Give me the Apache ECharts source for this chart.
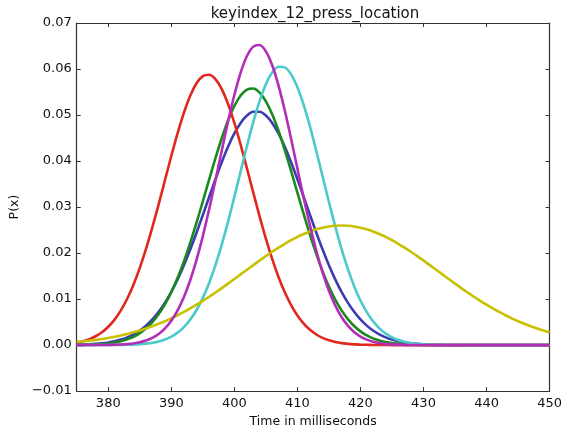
<!DOCTYPE html>
<html>
<head>
<meta charset="utf-8">
<script src="https://cdn.jsdelivr.net/npm/echarts@6/dist/echarts.min.js"></script>
<style>
  html, body { margin: 0; padding: 0; background: #fff; }
  #chart { width: 565px; height: 433px; }
</style>
</head>
<body>
<div id="chart"></div>
<script>
// Sample times (ms), one per millisecond, shared by every curve
const times = [
  375, 376, 377, 378, 379, 380, 381, 382, 383, 384,
  385, 386, 387, 388, 389, 390, 391, 392, 393, 394,
  395, 396, 397, 398, 399, 400, 401, 402, 403, 404,
  405, 406, 407, 408, 409, 410, 411, 412, 413, 414,
  415, 416, 417, 418, 419, 420, 421, 422, 423, 424,
  425, 426, 427, 428, 429, 430, 431, 432, 433, 434,
  435, 436, 437, 438, 439, 440, 441, 442, 443, 444,
  445, 446, 447, 448, 449, 450];

// Density P(x) of each curve at those times
const redP = [
  0.00055, 0.00085, 0.00129, 0.00192, 0.00279, 0.00398, 0.00553, 0.00755, 0.01007, 0.01313,
  0.01678, 0.02095, 0.02562, 0.03065, 0.03587, 0.04109, 0.04605, 0.05050, 0.05419, 0.05689,
  0.05845, 0.05876, 0.05780, 0.05562, 0.05238, 0.04827, 0.04352, 0.03840, 0.03315, 0.02799,
  0.02314, 0.01872, 0.01481, 0.01147, 0.00869, 0.00644, 0.00467, 0.00331, 0.00230, 0.00157,
  0.00104, 0.00068, 0.00043, 0.00027, 0.00016, 0.00010, 0.00006, 0.00003, 0.00002, 0.00001,
  0, 0, 0, 0, 0, 0, 0, 0, 0, 0,
  0, 0, 0, 0, 0, 0, 0, 0, 0, 0,
  0, 0, 0, 0, 0, 0];
const greenP = [
  0.00003, 0.00005, 0.00009, 0.00014, 0.00023, 0.00036, 0.00056, 0.00084, 0.00125, 0.00182,
  0.00260, 0.00364, 0.00500, 0.00674, 0.00889, 0.01152, 0.01462, 0.01820, 0.02223, 0.02661,
  0.03124, 0.03597, 0.04061, 0.04495, 0.04880, 0.05196, 0.05424, 0.05553, 0.05575, 0.05488,
  0.05298, 0.05016, 0.04657, 0.04239, 0.03784, 0.03313, 0.02844, 0.02394, 0.01976, 0.01599,
  0.01270, 0.00988, 0.00754, 0.00565, 0.00414, 0.00298, 0.00211, 0.00146, 0.00099, 0.00066,
  0.00043, 0.00028, 0.00017, 0.00011, 0.00006, 0.00004, 0.00002, 0.00001, 0.00001, 0,
  0, 0, 0, 0, 0, 0, 0, 0, 0, 0,
  0, 0, 0, 0, 0, 0];
const blueP = [
  0.00007, 0.00011, 0.00017, 0.00026, 0.00039, 0.00057, 0.00083, 0.00119, 0.00168, 0.00232,
  0.00316, 0.00423, 0.00557, 0.00723, 0.00922, 0.01157, 0.01429, 0.01736, 0.02076, 0.02442,
  0.02826, 0.03218, 0.03605, 0.03974, 0.04310, 0.04599, 0.04828, 0.04988, 0.05070, 0.05070,
  0.04988, 0.04828, 0.04599, 0.04310, 0.03974, 0.03605, 0.03218, 0.02826, 0.02442, 0.02076,
  0.01736, 0.01429, 0.01157, 0.00922, 0.00723, 0.00557, 0.00423, 0.00316, 0.00232, 0.00168,
  0.00119, 0.00083, 0.00057, 0.00039, 0.00026, 0.00017, 0.00011, 0.00007, 0.00004, 0.00003,
  0.00002, 0.00001, 0.00001, 0, 0, 0, 0, 0, 0, 0,
  0, 0, 0, 0, 0, 0];
const magentaP = [
  0, 0, 0.00001, 0.00001, 0.00002, 0.00004, 0.00007, 0.00012, 0.00021, 0.00036,
  0.00060, 0.00098, 0.00156, 0.00240, 0.00362, 0.00529, 0.00753, 0.01044, 0.01409, 0.01852,
  0.02369, 0.02952, 0.03579, 0.04226, 0.04858, 0.05436, 0.05923, 0.06282, 0.06487, 0.06522,
  0.06384, 0.06083, 0.05644, 0.05097, 0.04483, 0.03838, 0.03198, 0.02596, 0.02050, 0.01577,
  0.01181, 0.00861, 0.00611, 0.00422, 0.00284, 0.00186, 0.00119, 0.00074, 0.00044, 0.00026,
  0.00015, 0.00008, 0.00005, 0.00002, 0.00001, 0.00001, 0, 0, 0, 0,
  0, 0, 0, 0, 0, 0, 0, 0, 0, 0,
  0, 0, 0, 0, 0, 0];
const cyanP = [
  0, 0, 0, 0, 0.00001, 0.00001, 0.00002, 0.00004, 0.00006, 0.00011,
  0.00018, 0.00031, 0.00050, 0.00078, 0.00121, 0.00184, 0.00271, 0.00391, 0.00553, 0.00762,
  0.01026, 0.01350, 0.01738, 0.02185, 0.02683, 0.03220, 0.03776, 0.04327, 0.04846, 0.05303,
  0.05670, 0.05924, 0.06049, 0.06035, 0.05884, 0.05605, 0.05218, 0.04746, 0.04219, 0.03664,
  0.03110, 0.02580, 0.02091, 0.01655, 0.01281, 0.00968, 0.00716, 0.00517, 0.00364, 0.00251,
  0.00169, 0.00111, 0.00072, 0.00045, 0.00028, 0.00017, 0.00010, 0.00006, 0.00003, 0.00002,
  0.00001, 0.00001, 0, 0, 0, 0, 0, 0, 0, 0,
  0, 0, 0, 0, 0, 0];
const yellowP = [
  0.00069, 0.00082, 0.00097, 0.00114, 0.00134, 0.00156, 0.00181, 0.00210, 0.00242, 0.00277,
  0.00317, 0.00361, 0.00409, 0.00462, 0.00519, 0.00581, 0.00648, 0.00720, 0.00796, 0.00877,
  0.00962, 0.01051, 0.01143, 0.01238, 0.01336, 0.01436, 0.01537, 0.01637, 0.01738, 0.01837,
  0.01934, 0.02028, 0.02117, 0.02201, 0.02280, 0.02351, 0.02415, 0.02470, 0.02516, 0.02552,
  0.02579, 0.02595, 0.02600, 0.02595, 0.02579, 0.02552, 0.02516, 0.02470, 0.02415, 0.02351,
  0.02280, 0.02201, 0.02117, 0.02028, 0.01934, 0.01837, 0.01738, 0.01637, 0.01537, 0.01436,
  0.01336, 0.01238, 0.01143, 0.01051, 0.00962, 0.00877, 0.00796, 0.00720, 0.00648, 0.00581,
  0.00519, 0.00462, 0.00409, 0.00361, 0.00317, 0.00277];

// Axis tick positions
const xTicks = [380, 390, 400, 410, 420, 430, 440, 450];

const FONT = 'DejaVu Sans';
const AXIS_COLOR = '#333';

function pairs(vals) { return times.map((t, i) => [t, vals[i]]); }

function curve(vals, color) {
  return {
    type: 'line',
    data: pairs(vals),
    smooth: 0.3,
    symbol: 'none',
    lineStyle: { color: color, width: 2.6 },
    emphasis: { disabled: true },
    animation: false
  };
}

const chart = echarts.init(document.getElementById('chart'), null, { renderer: 'canvas' });

const tickCommon = { show: true, inside: true, length: 4, lineStyle: { color: AXIS_COLOR, width: 1 } };
const lineCommon = { show: true, onZero: false, lineStyle: { color: AXIS_COLOR, width: 1.2 } };

chart.setOption({
  backgroundColor: '#ffffff',
  animation: false,
  title: {
    text: 'keyindex_12_press_location',
    left: 310, top: 2, textAlign: 'center',
    textStyle: { fontFamily: FONT, fontSize: 15, fontWeight: 'normal', color: '#111' }
  },
  grid: { left: 67, right: 11, top: 23, bottom: 32, containLabel: false },
  xAxis: [{
    type: 'value', min: 375, max: 450, position: 'bottom',
    name: 'Time in milliseconds', nameLocation: 'middle', nameGap: 22,
    nameTextStyle: { fontFamily: FONT, fontSize: 12.5, color: '#111' },
    axisLine: lineCommon,
    axisTick: Object.assign({ customValues: xTicks }, tickCommon),
    axisLabel: { customValues: xTicks, fontFamily: FONT, fontSize: 13, color: '#111', margin: 6 },
    splitLine: { show: false }
  }, {
    type: 'value', min: 375, max: 450, position: 'top',
    axisLine: lineCommon,
    axisTick: Object.assign({ customValues: xTicks }, tickCommon),
    axisLabel: { show: false },
    splitLine: { show: false }
  }],
  yAxis: [{
    type: 'value', min: -0.01, max: 0.07, interval: 0.01, position: 'left',
    name: 'P(x)', nameLocation: 'middle', nameGap: 50, nameRotate: 90,
    nameTextStyle: { fontFamily: FONT, fontSize: 12.5, color: '#111' },
    axisLine: lineCommon,
    axisTick: tickCommon,
    axisLabel: {
      fontFamily: FONT, fontSize: 13, color: '#111', margin: 5,
      formatter: v => (Math.round(v * 100) / 100).toFixed(2).replace('-', '\u2212')
    },
    splitLine: { show: false }
  }, {
    type: 'value', min: -0.01, max: 0.07, interval: 0.01, position: 'right',
    axisLine: lineCommon,
    axisTick: tickCommon,
    axisLabel: { show: false },
    splitLine: { show: false }
  }],
  series: [
    curve(blueP, '#3c3cb0'),
    curve(greenP, '#1a8a1e'),
    curve(redP, '#e0281e'),
    curve(cyanP, '#4ccaca'),
    curve(yellowP, '#c8c000'),
    curve(magentaP, '#b42db8')
  ]
});
</script>
</body>
</html>
